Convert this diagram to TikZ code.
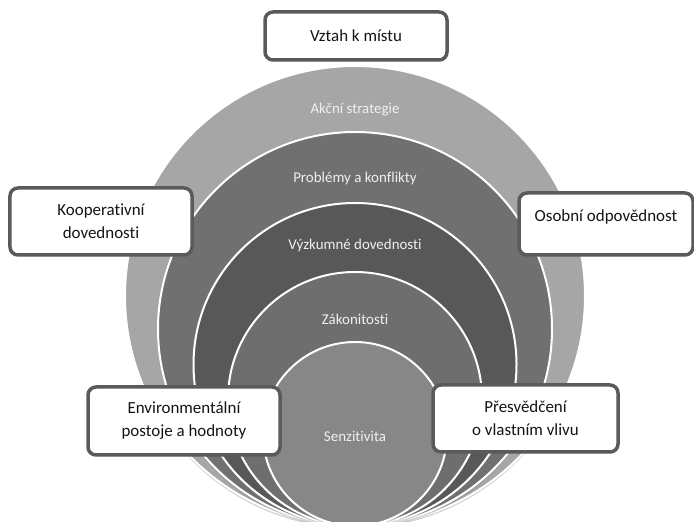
\documentclass[tikz,border=0pt]{standalone}
\usepackage{fontspec}
\setmainfont{Carlito}[Ligatures=NoCommon]
\usepackage{xcolor}
\usepackage{tikz}
\usetikzlibrary{positioning,shadows}
\definecolor{RingA}{RGB}{166,166,166}
\definecolor{RingB}{RGB}{112,112,112}
\definecolor{RingC}{RGB}{88,88,88}
\definecolor{RingD}{RGB}{110,110,110}
\definecolor{RingE}{RGB}{135,135,135}
\definecolor{RingText}{RGB}{240,240,240}
\definecolor{BoxEdge}{RGB}{90,90,90}
\definecolor{BoxText}{RGB}{20,20,20}
\tikzset{
  ring/.style={circle, draw=white, line width=2bp, inner sep=0pt,
    drop shadow={shadow xshift=0bp, shadow yshift=-2.5bp, opacity=.35}},
  ringlab/.style={font=\fontsize{15}{18}\selectfont, text=RingText, inner sep=1pt},
  lbox/.style={draw=BoxEdge, line width=3.5bp, fill=white, rounded corners=8bp,
    align=center, font=\fontsize{17}{23}\selectfont, text=BoxText, inner sep=0pt,
    drop shadow={shadow xshift=1bp, shadow yshift=-1.5bp, opacity=.25}},
}

\begin{document}
\begin{tikzpicture}[x=1bp,y=1bp]
  \useasboundingbox (0,0) rectangle (694,522);
  % nested circles, all touching at the bottom
  \node[ring, fill=RingA, minimum size=460bp] (strategie) at (355,226) {};
  \node[ring, fill=RingB, minimum size=394bp] (problemy) at (355,193) {};
  \node[ring, fill=RingC, minimum size=323bp] (vyzkum) at (355,157.5) {};
  \node[ring, fill=RingD, minimum size=254bp] (zakon) at (355,123) {};
  \node[ring, fill=RingE, minimum size=184bp] (senzit) at (355,88) {};
  \node[ringlab] (labA) at ([yshift=-45bp]strategie.north) {Akční strategie};
  \node[ringlab] (labB) at ([yshift=-48bp]problemy.north) {Problémy a konflikty};
  \node[ringlab] (labC) at ([yshift=-44bp]vyzkum.north) {Výzkumné dovednosti};
  \node[ringlab] (labD) at ([yshift=-48bp]zakon.north) {Zákonitosti};
  \node[ringlab] (labE) at ([yshift=-2bp]senzit.center) {Senzitivita};
  % boxes round the circles
  \node[lbox, minimum width=182bp, minimum height=48bp] (misto) at (356,486) {Vztah k místu};
  \node[lbox, minimum width=182bp, minimum height=67bp] (koop) at (101,300.5) {Kooperativní\\dovednosti};
  \node[lbox, minimum width=174bp, minimum height=62bp, text height=10bp, text depth=15bp] (osobni) at (606,298) {Osobní odpovědnost};
  \node[lbox, minimum width=192bp, minimum height=68bp] (postoje) at (184,101) {Environmentální\\postoje a hodnoty};
  \node[lbox, minimum width=185bp, minimum height=67bp] (vliv) at (525.5,103.5) {Přesvědčení\\o vlastním vlivu};
\end{tikzpicture}
\end{document}
